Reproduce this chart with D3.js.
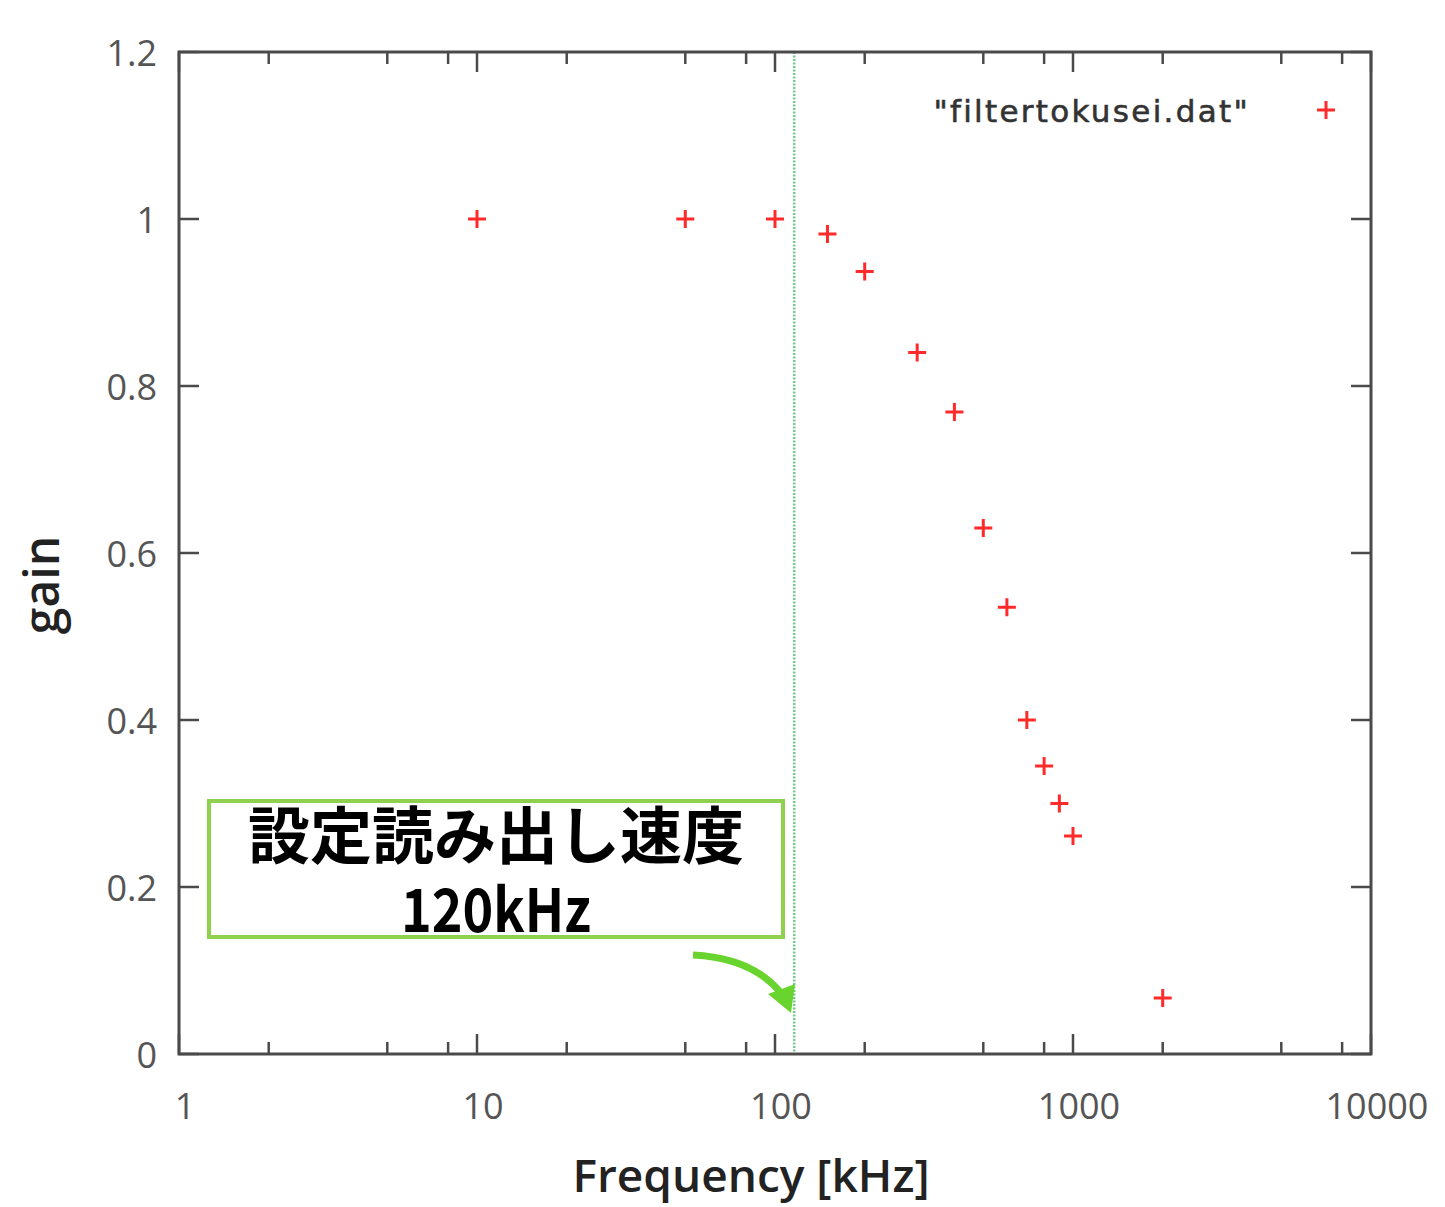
<!DOCTYPE html>
<html>
<head>
<meta charset="utf-8">
<script src="https://cdn.jsdelivr.net/npm/d3@7"></script>
<style>
  body { margin: 0; background: #fff; }
  svg { display: block; }
</style>
</head>
<body>
<svg id="chart" width="1445" height="1207"></svg>
<script>
// measured points, kHz vs gain
const freqs = [10, 50, 100, 150, 200, 300, 400, 500, 600, 700, 800, 900, 1000, 2000];
const gains = [1.0, 1.0, 1.0, 0.982, 0.937, 0.84, 0.769, 0.63, 0.535, 0.40, 0.345, 0.30, 0.261, 0.067];

const xTicks = [1, 10, 100, 1000, 10000];
const xMinor = [2, 5, 8, 20, 50, 80, 200, 500, 800, 2000, 5000, 8000];
const yTicks = [0, 0.2, 0.4, 0.6, 0.8, 1, 1.2];

const cutoff = 116;   // dotted green line
const seriesName = '"filtertokusei.dat"';
const noteLines = ["設定読み出し速度", "120kHz"];

const plotL = 179, plotR = 1371, plotT = 52, plotB = 1054;

const svg = d3.select("#chart");

const x = d3.scaleLog().domain([1, 10000]).range([plotL, plotR]);
const y = d3.scaleLinear().domain([0, 1.2]).range([plotB, plotT]);

const axisColor = "#4a4a4a";
const labelColor = "#555";

// ticks on all four sides, pointing inward
function tickLines(g, vals, len, horiz) {
    vals.forEach(v => {
        if (horiz) {
            g.append("line").attr("x1", x(v)).attr("x2", x(v))
                .attr("y1", plotB).attr("y2", plotB - len);
            g.append("line").attr("x1", x(v)).attr("x2", x(v))
                .attr("y1", plotT).attr("y2", plotT + len);
        } else {
            g.append("line").attr("y1", y(v)).attr("y2", y(v))
                .attr("x1", plotL).attr("x2", plotL + len);
            g.append("line").attr("y1", y(v)).attr("y2", y(v))
                .attr("x1", plotR).attr("x2", plotR - len);
        }
    });
}

const ticks = svg.append("g").attr("stroke", axisColor).attr("stroke-width", 2.5);
tickLines(ticks, xTicks, 20, true);
tickLines(ticks, xMinor, 12, true);
tickLines(ticks, yTicks, 20, false);

// cutoff line
svg.append("line")
    .attr("x1", x(cutoff)).attr("x2", x(cutoff))
    .attr("y1", plotT).attr("y2", plotB)
    .attr("stroke", "#72c98a").attr("stroke-width", 2.5)
    .attr("stroke-dasharray", "2,1.5");

// frame
svg.append("rect")
    .attr("x", plotL).attr("y", plotT)
    .attr("width", plotR - plotL).attr("height", plotB - plotT)
    .attr("fill", "none").attr("stroke", axisColor).attr("stroke-width", 3);

// tick labels
svg.append("g").selectAll("text").data(xTicks).join("text")
    .attr("x", d => x(d) + 6).attr("y", 1119)
    .attr("text-anchor", "middle")
    .attr("font-family", "Open Sans").attr("font-size", 36)
    .attr("fill", labelColor)
    .text(d => d);

svg.append("g").selectAll("text").data(yTicks).join("text")
    .attr("x", 157).attr("y", d => y(d) + 14)
    .attr("text-anchor", "end")
    .attr("font-family", "Open Sans").attr("font-size", 36)
    .attr("fill", labelColor)
    .text(d => d);

// axis titles
svg.append("text")
    .attr("x", 751).attr("y", 1192)
    .attr("text-anchor", "middle")
    .attr("font-family", "Open Sans").attr("font-size", 46)
    .attr("font-weight", 600)
    .attr("fill", "#222")
    .text("Frequency [kHz]");

svg.append("text")
    .attr("transform", "translate(59,585) rotate(-90)")
    .attr("text-anchor", "middle")
    .attr("font-family", "Open Sans").attr("font-size", 48)
    .attr("font-weight", 600)
    .attr("fill", "#222")
    .text("gain");

// plus markers
function plus(g, cx, cy) {
    const s = 9;
    g.append("path")
        .attr("d", `M${cx - s},${cy}H${cx + s}M${cx},${cy - s}V${cy + s}`);
}
const marks = svg.append("g").attr("stroke", "#ff2a2a").attr("stroke-width", 3);
freqs.forEach((f, i) => plus(marks, x(f), y(gains[i])));

// legend
svg.append("text")
    .attr("x", 1250).attr("y", 122)
    .attr("text-anchor", "end")
    .attr("font-family", "DejaVu Sans").attr("font-size", 31)
    .attr("letter-spacing", 2.3)
    .attr("fill", "#333").attr("stroke", "#333").attr("stroke-width", 0.6)
    .text(seriesName);
plus(marks, 1326, 110);

// annotation box
const note = svg.append("g");
note.append("rect")
    .attr("x", 209).attr("y", 801).attr("width", 574).attr("height", 136)
    .attr("fill", "#fff").attr("stroke", "#8fd14f").attr("stroke-width", 4);
note.append("text")
    .attr("x", 496).attr("y", 859)
    .attr("text-anchor", "middle")
    .attr("font-family", "Noto Sans CJK JP").attr("font-weight", "bold")
    .attr("font-size", 62).attr("fill", "#000")
    .text(noteLines[0]);
note.append("text")
    .attr("x", 496).attr("y", 932)
    .attr("text-anchor", "middle")
    .attr("font-family", "Noto Sans CJK JP").attr("font-weight", "bold")
    .attr("font-size", 60).attr("fill", "#000")
    .attr("textLength", 190).attr("lengthAdjust", "spacingAndGlyphs")
    .text(noteLines[1]);

// curved arrow pointing at the line
note.append("path")
    .attr("d", "M693,955 Q752,958 780,992")
    .attr("fill", "none").attr("stroke", "#6ad42e").attr("stroke-width", 7);
note.append("path")
    .attr("d", "M768,994 L795,984 L791,1013 Z")
    .attr("fill", "#6ad42e");
</script>
</body>
</html>
